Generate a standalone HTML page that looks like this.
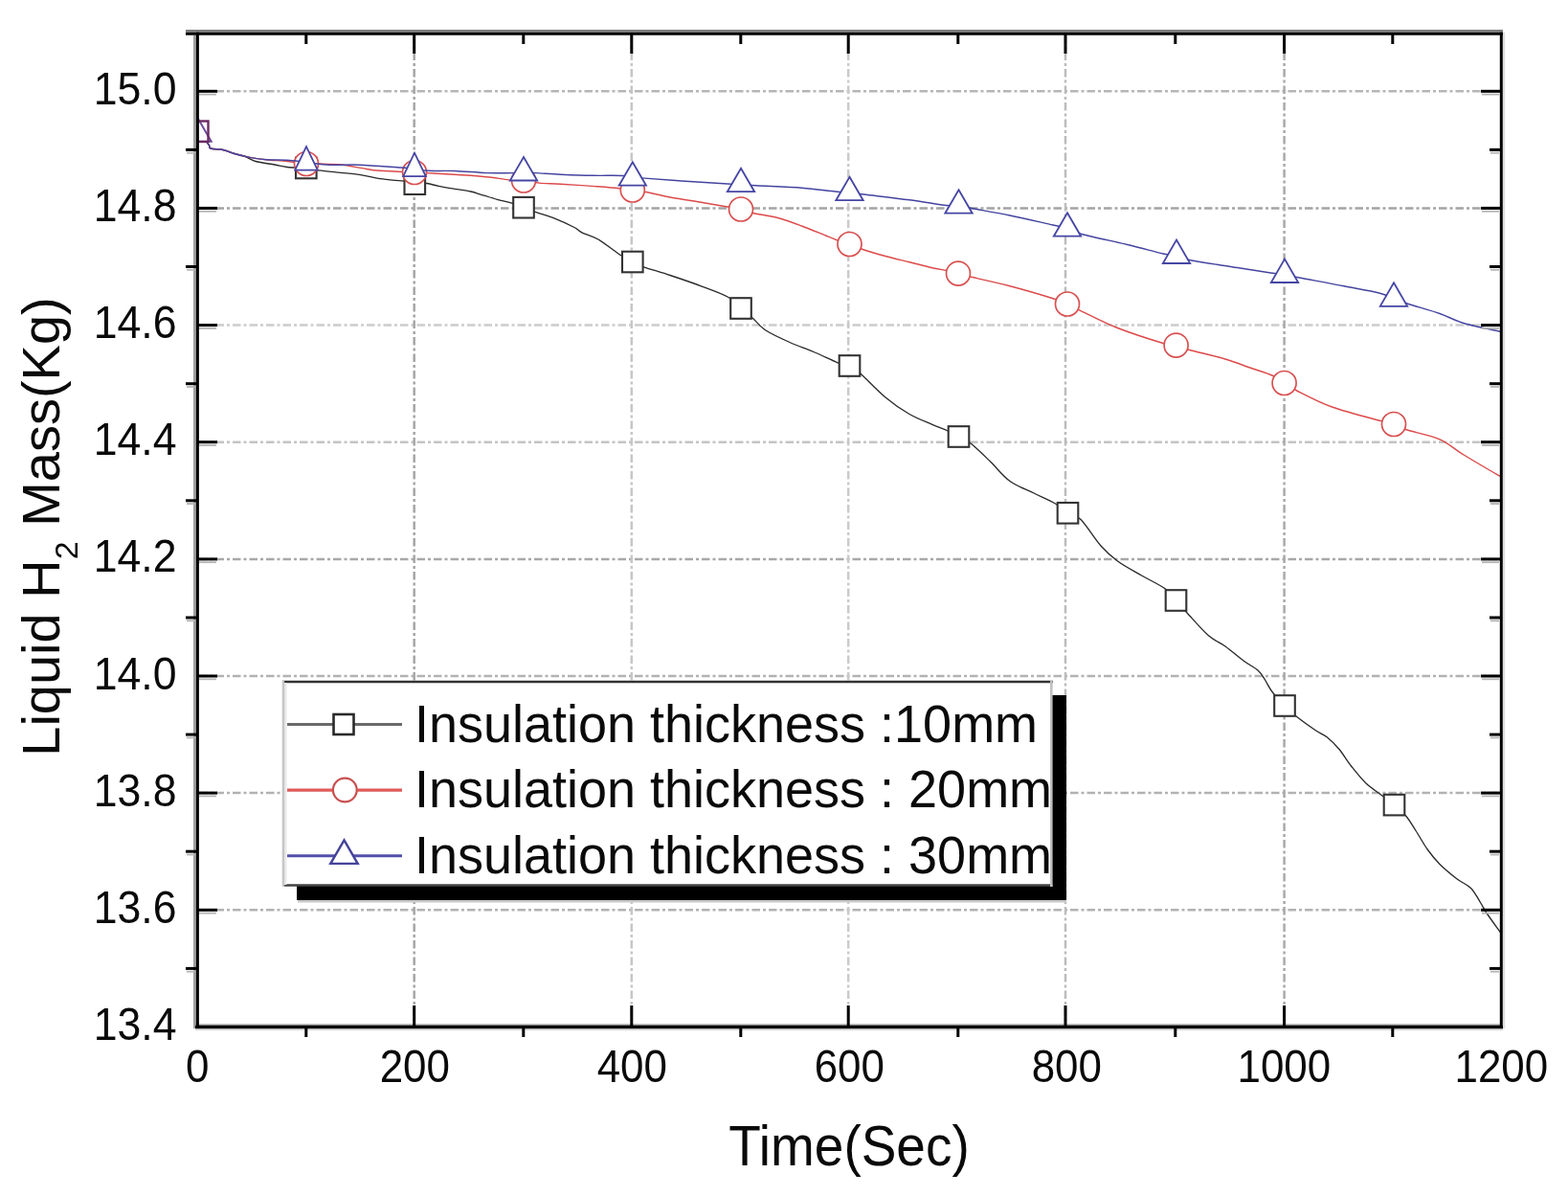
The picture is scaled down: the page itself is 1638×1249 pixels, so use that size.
<!DOCTYPE html><html><head><meta charset="utf-8"><title>Liquid H2 Mass vs Time</title><style>html,body{margin:0;padding:0;background:#fff;}svg{display:block;}</style></head><body>
<svg width="1638" height="1249" viewBox="0 0 1638 1249">
<rect width="1638" height="1249" fill="#fff"/>
<g stroke-width="2.5" stroke-dasharray="8.5 3 3 3" fill="none">
<line x1="208" y1="95.3" x2="1566" y2="95.3" stroke="#b6b6b6"/>
<line x1="208" y1="217.4" x2="1566" y2="217.4" stroke="#a4a4a4"/>
<line x1="208" y1="339.6" x2="1566" y2="339.6" stroke="#cccccc"/>
<line x1="208" y1="461.7" x2="1566" y2="461.7" stroke="#c4c4c4"/>
<line x1="208" y1="583.9" x2="1566" y2="583.9" stroke="#a8a8a8"/>
<line x1="208" y1="706.0" x2="1566" y2="706.0" stroke="#b2b2b2"/>
<line x1="208" y1="828.1" x2="1566" y2="828.1" stroke="#b2b2b2"/>
<line x1="208" y1="950.3" x2="1566" y2="950.3" stroke="#b2b2b2"/>
<line x1="432.7" y1="37" x2="432.7" y2="1070" stroke="#a6a6a6"/>
<line x1="659.8" y1="37" x2="659.8" y2="1070" stroke="#c6c6c6"/>
<line x1="886.2" y1="37" x2="886.2" y2="1070" stroke="#cacaca"/>
<line x1="1113.0" y1="37" x2="1113.0" y2="1070" stroke="#bcbcbc"/>
<line x1="1341.6" y1="37" x2="1341.6" y2="1070" stroke="#aaaaaa"/>
</g>
<defs><clipPath id="pc"><rect x="206.3" y="35" width="1362" height="1038"/></clipPath></defs>
<g clip-path="url(#pc)">
<path d="M206.5 137.0C208.4 139.3 215.8 148.0 218.0 151.0C220.2 154.0 217.5 154.1 220.0 155.0C222.5 155.9 228.8 155.6 233.0 156.5C237.2 157.4 241.3 159.4 245.0 160.5C248.7 161.6 251.3 161.7 255.0 163.0C258.7 164.3 261.7 167.0 267.0 168.5C272.3 170.0 281.5 171.0 287.0 172.0C292.5 173.0 294.5 173.9 300.0 174.5C305.5 175.1 314.3 174.9 319.8 175.5C325.3 176.1 327.0 177.0 333.0 177.8C339.0 178.6 348.5 179.5 356.0 180.3C363.5 181.1 371.2 181.7 378.0 182.8C384.8 183.9 390.1 185.7 397.0 186.7C403.9 187.7 413.3 188.3 419.4 188.9C425.4 189.5 428.9 189.6 433.3 190.0C437.7 190.4 441.8 190.8 446.0 191.5C450.2 192.2 453.5 193.4 458.3 194.4C463.1 195.4 469.4 196.4 475.0 197.3C480.6 198.2 487.1 199.0 491.7 200.0C496.3 201.0 498.2 201.9 502.8 203.3C507.4 204.7 514.4 206.9 519.4 208.3C524.4 209.7 528.4 210.3 533.0 211.7C537.6 213.1 542.5 215.0 547.0 216.7C551.5 218.4 554.5 219.8 560.0 221.7C565.5 223.6 573.3 225.7 580.0 228.3C586.7 230.9 595.4 235.1 600.0 237.5C604.6 239.9 603.6 240.7 607.8 242.8C612.0 244.9 618.4 246.1 625.0 250.0C631.6 253.9 641.6 262.1 647.5 266.0C653.4 269.9 656.3 271.4 660.5 273.5C664.7 275.6 665.9 276.4 672.5 278.8C679.1 281.1 690.0 284.2 700.0 287.5C710.0 290.8 722.5 295.0 732.5 298.8C742.5 302.5 753.1 306.1 760.0 310.0C766.9 313.9 769.7 318.3 774.0 322.0C778.3 325.7 781.7 328.2 786.0 332.0C790.3 335.8 793.5 340.8 800.0 345.0C806.5 349.2 816.7 353.8 825.0 357.5C833.3 361.2 841.7 364.0 850.0 367.5C858.3 371.0 868.8 376.3 875.0 378.8C881.2 381.2 883.5 380.1 887.5 382.0C891.5 383.9 892.5 384.5 898.8 390.0C905.0 395.5 916.5 407.9 925.0 415.0C933.5 422.1 941.7 427.7 950.0 432.5C958.3 437.3 968.3 440.8 975.0 443.8C981.7 446.7 985.6 448.0 990.0 450.0C994.4 452.0 997.3 453.7 1001.5 456.0C1005.7 458.3 1009.4 459.3 1015.0 463.8C1020.6 468.2 1028.3 476.0 1035.0 482.5C1041.7 489.0 1047.5 497.1 1055.0 502.5C1062.5 507.9 1072.1 511.1 1080.0 515.0C1087.9 518.9 1096.6 522.5 1102.5 526.0C1108.4 529.5 1111.1 533.0 1115.5 535.8C1119.9 538.5 1123.2 536.8 1129.0 542.5C1134.8 548.2 1143.6 562.8 1150.0 570.0C1156.4 577.2 1160.4 580.8 1167.5 586.0C1174.6 591.2 1184.2 596.2 1192.5 601.0C1200.8 605.8 1211.5 610.7 1217.5 615.0C1223.5 619.3 1224.8 622.8 1228.5 627.0C1232.2 631.2 1234.3 633.9 1240.0 640.0C1245.7 646.1 1255.8 657.9 1262.5 663.8C1269.2 669.6 1273.9 670.6 1280.0 675.0C1286.1 679.4 1293.3 685.8 1299.0 690.0C1304.7 694.2 1310.2 696.7 1314.0 700.0C1317.8 703.3 1319.0 706.2 1321.5 710.0C1324.0 713.8 1325.6 718.0 1329.0 722.5C1332.4 727.0 1337.7 732.6 1342.0 737.0C1346.3 741.4 1349.7 744.5 1355.0 748.8C1360.3 753.0 1368.8 759.0 1374.0 762.5C1379.2 766.0 1382.3 766.7 1386.5 770.0C1390.7 773.3 1394.8 777.5 1399.0 782.5C1403.2 787.5 1406.9 794.2 1411.5 800.0C1416.1 805.8 1421.1 812.3 1426.5 817.5C1431.9 822.7 1439.0 827.1 1444.0 831.0C1449.0 834.9 1452.3 837.0 1456.5 840.6C1460.7 844.2 1465.2 848.0 1469.0 852.5C1472.8 857.0 1475.2 861.7 1479.0 867.5C1482.8 873.3 1487.3 881.7 1491.5 887.5C1495.7 893.3 1499.0 897.5 1504.0 902.5C1509.0 907.5 1516.1 913.3 1521.5 917.5C1526.9 921.7 1532.3 923.3 1536.5 927.5C1540.7 931.7 1543.6 937.9 1546.5 942.5C1549.4 947.1 1550.4 949.7 1554.0 955.0C1557.6 960.3 1565.7 971.2 1568.0 974.5" fill="none" stroke="#2a2a2a" stroke-width="1.35" stroke-linejoin="round"/>
<rect x="309.0" y="164.7" width="21.6" height="21.6" fill="#fff" stroke="#333333" stroke-width="2.1"/>
<rect x="422.5" y="181.4" width="21.6" height="21.6" fill="#fff" stroke="#333333" stroke-width="2.1"/>
<rect x="536.2" y="205.9" width="21.6" height="21.6" fill="#fff" stroke="#333333" stroke-width="2.1"/>
<rect x="650.0" y="262.7" width="21.6" height="21.6" fill="#fff" stroke="#333333" stroke-width="2.1"/>
<rect x="763.2" y="311.2" width="21.6" height="21.6" fill="#fff" stroke="#333333" stroke-width="2.1"/>
<rect x="876.7" y="371.2" width="21.6" height="21.6" fill="#fff" stroke="#333333" stroke-width="2.1"/>
<rect x="990.7" y="445.2" width="21.6" height="21.6" fill="#fff" stroke="#333333" stroke-width="2.1"/>
<rect x="1104.7" y="525.0" width="21.6" height="21.6" fill="#fff" stroke="#333333" stroke-width="2.1"/>
<rect x="1217.7" y="616.2" width="21.6" height="21.6" fill="#fff" stroke="#333333" stroke-width="2.1"/>
<rect x="1331.2" y="726.2" width="21.6" height="21.6" fill="#fff" stroke="#333333" stroke-width="2.1"/>
<rect x="1445.7" y="829.8" width="21.6" height="21.6" fill="#fff" stroke="#333333" stroke-width="2.1"/>
<path d="M206.5 137.0C208.4 139.3 215.8 148.0 218.0 151.0C220.2 154.0 217.5 154.1 220.0 155.0C222.5 155.9 228.8 155.6 233.0 156.5C237.2 157.4 240.3 159.2 245.0 160.5C249.7 161.8 255.5 163.4 261.0 164.4C266.5 165.4 271.5 166.0 278.0 166.7C284.5 167.4 293.0 167.8 300.0 168.5C307.0 169.2 314.5 170.6 320.0 171.0C325.5 171.4 327.0 170.8 333.0 171.0C339.0 171.2 348.5 171.2 356.0 172.0C363.5 172.8 371.2 174.5 378.0 175.6C384.8 176.7 387.8 177.6 397.0 178.3C406.2 179.0 423.7 179.6 433.0 180.0C442.3 180.4 443.0 180.4 452.8 181.0C462.6 181.6 480.6 182.5 491.7 183.3C502.8 184.2 512.4 185.3 519.4 186.1C526.4 186.9 529.4 187.9 534.0 188.3C538.6 188.8 542.1 188.3 547.0 188.8C551.9 189.3 556.9 190.5 563.3 191.1C569.7 191.7 576.3 191.6 585.6 192.2C594.9 192.8 608.7 193.7 618.9 194.4C629.1 195.2 639.8 196.0 646.7 196.7C653.6 197.4 655.9 197.9 660.5 198.5C665.1 199.1 667.8 199.2 674.4 200.5C681.0 201.8 691.6 204.4 700.0 206.0C708.4 207.6 715.0 208.3 725.0 210.0C735.0 211.7 751.8 214.6 760.0 216.0C768.2 217.4 769.7 217.4 774.0 218.5C778.3 219.6 779.6 221.0 786.0 222.5C792.4 224.0 803.9 225.2 812.5 227.5C821.1 229.8 829.2 232.9 837.5 236.0C845.8 239.1 856.2 243.5 862.5 246.0C868.8 248.5 870.8 249.5 875.0 251.0C879.2 252.5 883.3 253.5 887.5 255.0C891.7 256.5 893.8 257.9 900.0 260.0C906.2 262.1 916.7 265.2 925.0 267.5C933.3 269.8 941.7 271.7 950.0 273.8C958.3 275.8 968.5 278.5 975.0 280.0C981.5 281.5 984.7 281.6 989.0 282.5C993.3 283.4 997.1 284.6 1001.0 285.6C1004.9 286.6 1003.5 286.6 1012.5 288.8C1021.5 290.9 1040.0 294.8 1055.0 298.8C1070.0 302.7 1092.5 309.4 1102.5 312.5C1112.5 315.6 1110.8 315.6 1115.0 317.5C1119.2 319.4 1118.8 319.6 1127.5 323.8C1136.2 327.9 1152.8 336.7 1167.5 342.5C1182.2 348.3 1205.8 355.7 1216.0 358.8C1226.2 361.8 1224.4 359.6 1228.6 360.6C1232.8 361.6 1232.4 362.6 1241.0 365.0C1249.6 367.4 1269.3 371.9 1280.0 375.0C1290.7 378.1 1296.7 380.8 1305.0 383.8C1313.3 386.7 1323.9 389.8 1330.0 392.5C1336.1 395.2 1337.6 397.5 1341.6 400.0C1345.6 402.5 1345.4 403.3 1353.8 407.5C1362.1 411.7 1376.5 419.6 1391.5 425.0C1406.5 430.4 1433.2 437.0 1444.0 440.0C1454.8 443.0 1451.8 441.5 1456.0 443.0C1460.2 444.5 1461.0 446.1 1469.0 448.8C1477.0 451.4 1494.0 454.4 1504.0 458.8C1514.0 463.1 1518.3 468.5 1529.0 475.0C1539.7 481.5 1561.5 494.2 1568.0 498.0" fill="none" stroke="#dc4a4a" stroke-width="1.45" stroke-linejoin="round"/>
<circle cx="320.0" cy="171.0" r="12.5" fill="#fff" stroke="#d85050" stroke-width="1.7"/>
<circle cx="433.0" cy="180.0" r="12.5" fill="#fff" stroke="#d85050" stroke-width="1.7"/>
<circle cx="547.0" cy="188.5" r="12.5" fill="#fff" stroke="#d85050" stroke-width="1.7"/>
<circle cx="660.8" cy="198.5" r="12.5" fill="#fff" stroke="#d85050" stroke-width="1.7"/>
<circle cx="774.0" cy="218.5" r="12.5" fill="#fff" stroke="#d85050" stroke-width="1.7"/>
<circle cx="887.5" cy="255.0" r="12.5" fill="#fff" stroke="#d85050" stroke-width="1.7"/>
<circle cx="1001.0" cy="285.6" r="12.5" fill="#fff" stroke="#d85050" stroke-width="1.7"/>
<circle cx="1115.0" cy="317.5" r="12.5" fill="#fff" stroke="#d85050" stroke-width="1.7"/>
<circle cx="1228.6" cy="360.6" r="12.5" fill="#fff" stroke="#d85050" stroke-width="1.7"/>
<circle cx="1341.6" cy="400.0" r="12.5" fill="#fff" stroke="#d85050" stroke-width="1.7"/>
<circle cx="1456.0" cy="443.0" r="12.5" fill="#fff" stroke="#d85050" stroke-width="1.7"/>
<path d="M206.5 137.0C208.4 139.3 215.8 148.0 218.0 151.0C220.2 154.0 217.5 154.1 220.0 155.0C222.5 155.9 228.8 155.6 233.0 156.5C237.2 157.4 240.3 159.2 245.0 160.5C249.7 161.8 255.5 163.4 261.0 164.4C266.5 165.4 271.5 166.2 278.0 166.7C284.5 167.2 293.0 166.8 300.0 167.2C307.0 167.6 312.6 168.6 320.0 169.4C327.4 170.2 335.1 171.7 344.4 172.2C353.7 172.7 363.1 171.7 375.6 172.2C388.1 172.7 409.8 174.4 419.4 175.0C429.0 175.6 428.6 175.4 433.0 176.0C437.4 176.6 439.0 177.9 446.0 178.3C453.0 178.7 464.6 178.1 475.0 178.5C485.4 178.9 498.3 180.2 508.3 180.6C518.3 180.9 528.5 180.6 535.0 180.6C541.5 180.6 542.8 180.3 547.0 180.3C551.2 180.3 553.6 180.3 560.0 180.6C566.4 180.9 575.8 181.8 585.6 182.2C595.4 182.6 608.0 183.1 618.9 183.3C629.8 183.5 644.1 183.1 651.0 183.5C657.9 183.9 656.8 185.1 660.5 185.5C664.2 185.9 664.7 185.5 673.3 186.1C681.9 186.7 697.5 188.0 712.0 189.0C726.5 190.0 749.7 191.4 760.0 192.0C770.3 192.6 769.0 192.2 774.0 192.5C779.0 192.8 779.4 193.1 790.0 193.8C800.6 194.4 823.8 195.2 837.5 196.2C851.2 197.3 864.2 199.2 872.5 200.0C880.8 200.8 882.5 200.5 887.5 201.0C892.5 201.5 892.1 201.7 902.5 203.0C912.9 204.3 935.6 206.8 950.0 208.8C964.4 210.7 980.2 213.5 988.8 214.5C997.3 215.5 997.1 214.5 1001.5 215.0C1005.9 215.5 1006.1 215.8 1015.0 217.5C1023.9 219.2 1040.8 222.1 1055.0 225.0C1069.2 227.9 1090.0 232.8 1100.0 235.0C1110.0 237.2 1110.0 236.9 1115.0 238.5C1120.0 240.1 1119.2 241.6 1130.0 244.5C1140.8 247.4 1165.8 252.6 1180.0 256.0C1194.2 259.4 1206.8 263.2 1215.0 265.0C1223.2 266.8 1224.0 265.8 1229.0 267.0C1234.0 268.2 1234.4 269.9 1245.0 272.0C1255.6 274.1 1278.8 277.3 1292.5 279.5C1306.2 281.7 1319.2 283.8 1327.5 285.0C1335.8 286.2 1337.0 286.2 1342.0 287.0C1347.0 287.8 1347.2 288.0 1357.5 290.0C1367.8 292.0 1390.0 296.0 1404.0 298.8C1418.0 301.5 1432.8 304.1 1441.5 306.2C1450.2 308.4 1451.2 309.7 1456.0 311.5C1460.8 313.3 1462.0 314.3 1470.0 317.0C1478.0 319.7 1494.2 324.1 1504.0 327.5C1513.8 330.9 1518.3 334.3 1529.0 337.5C1539.7 340.7 1561.5 345.0 1568.0 346.5" fill="none" stroke="#4444a0" stroke-width="1.45" stroke-linejoin="round"/>
<path d="M320.0 153.1L331.8 177.6L308.2 177.6Z" fill="#fff" stroke="#4646a4" stroke-width="1.8" stroke-linejoin="miter"/>
<path d="M433.0 159.7L444.8 184.2L421.2 184.2Z" fill="#fff" stroke="#4646a4" stroke-width="1.8" stroke-linejoin="miter"/>
<path d="M547.0 164.0L561.2 188.5L532.8 188.5Z" fill="#fff" stroke="#4646a4" stroke-width="1.8" stroke-linejoin="miter"/>
<path d="M660.8 169.2L675.0 193.7L646.6 193.7Z" fill="#fff" stroke="#4646a4" stroke-width="1.8" stroke-linejoin="miter"/>
<path d="M774.0 175.7L788.2 200.2L759.8 200.2Z" fill="#fff" stroke="#4646a4" stroke-width="1.8" stroke-linejoin="miter"/>
<path d="M887.5 184.7L901.7 209.2L873.3 209.2Z" fill="#fff" stroke="#4646a4" stroke-width="1.8" stroke-linejoin="miter"/>
<path d="M1001.5 198.2L1015.7 222.7L987.3 222.7Z" fill="#fff" stroke="#4646a4" stroke-width="1.8" stroke-linejoin="miter"/>
<path d="M1115.0 222.2L1129.2 246.7L1100.8 246.7Z" fill="#fff" stroke="#4646a4" stroke-width="1.8" stroke-linejoin="miter"/>
<path d="M1229.0 250.5L1243.2 275.0L1214.8 275.0Z" fill="#fff" stroke="#4646a4" stroke-width="1.8" stroke-linejoin="miter"/>
<path d="M1342.0 270.5L1356.2 295.0L1327.8 295.0Z" fill="#fff" stroke="#4646a4" stroke-width="1.8" stroke-linejoin="miter"/>
<path d="M1456.0 295.3L1470.2 319.8L1441.8 319.8Z" fill="#fff" stroke="#4646a4" stroke-width="1.8" stroke-linejoin="miter"/>
<path d="M206.5 123.2L220.7 147.7L192.3 147.7Z" fill="#fff" stroke="#6a4a9a" stroke-width="2.0" stroke-linejoin="miter"/>
<rect x="195.5" y="126.5" width="22" height="21.5" fill="none" stroke="#6a2a62" stroke-width="2.4"/>
</g>
<g fill="none">
<line x1="203.5" y1="37" x2="203.5" y2="1074" stroke="#a0a0a0" stroke-width="3"/>
<line x1="194" y1="32.4" x2="1570" y2="32.4" stroke="#7c7c7c" stroke-width="2.8"/>
<line x1="204" y1="1070.3" x2="1567" y2="1070.3" stroke="#8a8a8a" stroke-width="1.6"/>
<line x1="204" y1="1075.2" x2="1570" y2="1075.2" stroke="#dcdcdc" stroke-width="2"/>
<line x1="1571" y1="33.8" x2="1571" y2="1074" stroke="#dedede" stroke-width="2.4"/>
<line x1="194" y1="35.3" x2="1570" y2="35.3" stroke="#000" stroke-width="3"/>
<line x1="206.4" y1="33.8" x2="206.4" y2="1074" stroke="#000" stroke-width="3"/>
<line x1="204" y1="1072.6" x2="1570" y2="1072.6" stroke="#000" stroke-width="3.1"/>
<line x1="1568.3" y1="33.8" x2="1568.3" y2="1074" stroke="#000" stroke-width="3"/>
</g>
<g stroke="#000" stroke-width="3.0" fill="none">
<line x1="207" y1="95.3" x2="227" y2="95.3"/>
<line x1="1547" y1="95.3" x2="1567" y2="95.3"/>
<line x1="207" y1="217.4" x2="227" y2="217.4"/>
<line x1="1547" y1="217.4" x2="1567" y2="217.4"/>
<line x1="207" y1="339.6" x2="227" y2="339.6"/>
<line x1="1547" y1="339.6" x2="1567" y2="339.6"/>
<line x1="207" y1="461.7" x2="227" y2="461.7"/>
<line x1="1547" y1="461.7" x2="1567" y2="461.7"/>
<line x1="207" y1="583.9" x2="227" y2="583.9"/>
<line x1="1547" y1="583.9" x2="1567" y2="583.9"/>
<line x1="207" y1="706.0" x2="227" y2="706.0"/>
<line x1="1547" y1="706.0" x2="1567" y2="706.0"/>
<line x1="207" y1="828.1" x2="227" y2="828.1"/>
<line x1="1547" y1="828.1" x2="1567" y2="828.1"/>
<line x1="207" y1="950.3" x2="227" y2="950.3"/>
<line x1="1547" y1="950.3" x2="1567" y2="950.3"/>
<line x1="194" y1="156.4" x2="205" y2="156.4"/>
<line x1="1556" y1="156.4" x2="1567" y2="156.4"/>
<line x1="194" y1="278.5" x2="205" y2="278.5"/>
<line x1="1556" y1="278.5" x2="1567" y2="278.5"/>
<line x1="194" y1="400.7" x2="205" y2="400.7"/>
<line x1="1556" y1="400.7" x2="1567" y2="400.7"/>
<line x1="194" y1="522.8" x2="205" y2="522.8"/>
<line x1="1556" y1="522.8" x2="1567" y2="522.8"/>
<line x1="194" y1="645.0" x2="205" y2="645.0"/>
<line x1="1556" y1="645.0" x2="1567" y2="645.0"/>
<line x1="194" y1="767.1" x2="205" y2="767.1"/>
<line x1="1556" y1="767.1" x2="1567" y2="767.1"/>
<line x1="194" y1="889.2" x2="205" y2="889.2"/>
<line x1="1556" y1="889.2" x2="1567" y2="889.2"/>
<line x1="194" y1="1011.4" x2="205" y2="1011.4"/>
<line x1="1556" y1="1011.4" x2="1567" y2="1011.4"/>
<line x1="432.7" y1="36" x2="432.7" y2="56"/>
<line x1="432.7" y1="1050" x2="432.7" y2="1071"/>
<line x1="659.8" y1="36" x2="659.8" y2="56"/>
<line x1="659.8" y1="1050" x2="659.8" y2="1071"/>
<line x1="886.2" y1="36" x2="886.2" y2="56"/>
<line x1="886.2" y1="1050" x2="886.2" y2="1071"/>
<line x1="1113.0" y1="36" x2="1113.0" y2="56"/>
<line x1="1113.0" y1="1050" x2="1113.0" y2="1071"/>
<line x1="1341.6" y1="36" x2="1341.6" y2="56"/>
<line x1="1341.6" y1="1050" x2="1341.6" y2="1071"/>
<line x1="319.8" y1="36" x2="319.8" y2="46"/>
<line x1="319.8" y1="1073" x2="319.8" y2="1083"/>
<line x1="546.8" y1="36" x2="546.8" y2="46"/>
<line x1="546.8" y1="1073" x2="546.8" y2="1083"/>
<line x1="773.8" y1="36" x2="773.8" y2="46"/>
<line x1="773.8" y1="1073" x2="773.8" y2="1083"/>
<line x1="1000.8" y1="36" x2="1000.8" y2="46"/>
<line x1="1000.8" y1="1073" x2="1000.8" y2="1083"/>
<line x1="1227.8" y1="36" x2="1227.8" y2="46"/>
<line x1="1227.8" y1="1073" x2="1227.8" y2="1083"/>
<line x1="1454.8" y1="36" x2="1454.8" y2="46"/>
<line x1="1454.8" y1="1073" x2="1454.8" y2="1083"/>
</g>
<g stroke="#b4b4b4" stroke-width="1.8" fill="none">
<line x1="208" y1="98.6" x2="226" y2="98.6"/>
<line x1="1548" y1="98.6" x2="1566" y2="98.6"/>
<line x1="208" y1="220.7" x2="226" y2="220.7"/>
<line x1="1548" y1="220.7" x2="1566" y2="220.7"/>
<line x1="208" y1="342.9" x2="226" y2="342.9"/>
<line x1="1548" y1="342.9" x2="1566" y2="342.9"/>
<line x1="208" y1="465.0" x2="226" y2="465.0"/>
<line x1="1548" y1="465.0" x2="1566" y2="465.0"/>
<line x1="208" y1="587.2" x2="226" y2="587.2"/>
<line x1="1548" y1="587.2" x2="1566" y2="587.2"/>
<line x1="208" y1="709.3" x2="226" y2="709.3"/>
<line x1="1548" y1="709.3" x2="1566" y2="709.3"/>
<line x1="208" y1="831.4" x2="226" y2="831.4"/>
<line x1="1548" y1="831.4" x2="1566" y2="831.4"/>
<line x1="208" y1="953.6" x2="226" y2="953.6"/>
<line x1="1548" y1="953.6" x2="1566" y2="953.6"/>
<line x1="195" y1="159.7" x2="204" y2="159.7"/>
<line x1="1557" y1="159.7" x2="1566" y2="159.7"/>
<line x1="195" y1="281.8" x2="204" y2="281.8"/>
<line x1="1557" y1="281.8" x2="1566" y2="281.8"/>
<line x1="195" y1="404.0" x2="204" y2="404.0"/>
<line x1="1557" y1="404.0" x2="1566" y2="404.0"/>
<line x1="195" y1="526.1" x2="204" y2="526.1"/>
<line x1="1557" y1="526.1" x2="1566" y2="526.1"/>
<line x1="195" y1="648.3" x2="204" y2="648.3"/>
<line x1="1557" y1="648.3" x2="1566" y2="648.3"/>
<line x1="195" y1="770.4" x2="204" y2="770.4"/>
<line x1="1557" y1="770.4" x2="1566" y2="770.4"/>
<line x1="195" y1="892.5" x2="204" y2="892.5"/>
<line x1="1557" y1="892.5" x2="1566" y2="892.5"/>
<line x1="195" y1="1014.7" x2="204" y2="1014.7"/>
<line x1="1557" y1="1014.7" x2="1566" y2="1014.7"/>
</g>
<text transform="translate(184.5,108.8) scale(0.970,1.035)" font-family='"Liberation Sans", Arial, sans-serif' font-size="46" fill="#0a0a0a" text-anchor="end">15.0</text>
<text transform="translate(184.5,230.9) scale(0.970,1.035)" font-family='"Liberation Sans", Arial, sans-serif' font-size="46" fill="#0a0a0a" text-anchor="end">14.8</text>
<text transform="translate(184.5,353.1) scale(0.970,1.035)" font-family='"Liberation Sans", Arial, sans-serif' font-size="46" fill="#0a0a0a" text-anchor="end">14.6</text>
<text transform="translate(184.5,475.2) scale(0.970,1.035)" font-family='"Liberation Sans", Arial, sans-serif' font-size="46" fill="#0a0a0a" text-anchor="end">14.4</text>
<text transform="translate(184.5,597.4) scale(0.970,1.035)" font-family='"Liberation Sans", Arial, sans-serif' font-size="46" fill="#0a0a0a" text-anchor="end">14.2</text>
<text transform="translate(184.5,719.5) scale(0.970,1.035)" font-family='"Liberation Sans", Arial, sans-serif' font-size="46" fill="#0a0a0a" text-anchor="end">14.0</text>
<text transform="translate(184.5,841.6) scale(0.970,1.035)" font-family='"Liberation Sans", Arial, sans-serif' font-size="46" fill="#0a0a0a" text-anchor="end">13.8</text>
<text transform="translate(184.5,963.8) scale(0.970,1.035)" font-family='"Liberation Sans", Arial, sans-serif' font-size="46" fill="#0a0a0a" text-anchor="end">13.6</text>
<text transform="translate(184.5,1085.9) scale(0.970,1.035)" font-family='"Liberation Sans", Arial, sans-serif' font-size="46" fill="#0a0a0a" text-anchor="end">13.4</text>
<text transform="translate(206.3,1130.0) scale(0.955,1.035)" font-family='"Liberation Sans", Arial, sans-serif' font-size="46" fill="#0a0a0a" text-anchor="middle">0</text>
<text transform="translate(433.3,1130.0) scale(0.955,1.035)" font-family='"Liberation Sans", Arial, sans-serif' font-size="46" fill="#0a0a0a" text-anchor="middle">200</text>
<text transform="translate(660.3,1130.0) scale(0.955,1.035)" font-family='"Liberation Sans", Arial, sans-serif' font-size="46" fill="#0a0a0a" text-anchor="middle">400</text>
<text transform="translate(887.3,1130.0) scale(0.955,1.035)" font-family='"Liberation Sans", Arial, sans-serif' font-size="46" fill="#0a0a0a" text-anchor="middle">600</text>
<text transform="translate(1114.3,1130.0) scale(0.955,1.035)" font-family='"Liberation Sans", Arial, sans-serif' font-size="46" fill="#0a0a0a" text-anchor="middle">800</text>
<text transform="translate(1341.3,1130.0) scale(0.955,1.035)" font-family='"Liberation Sans", Arial, sans-serif' font-size="46" fill="#0a0a0a" text-anchor="middle">1000</text>
<text transform="translate(1568.3,1130.0) scale(0.955,1.035)" font-family='"Liberation Sans", Arial, sans-serif' font-size="46" fill="#0a0a0a" text-anchor="middle">1200</text>
<text transform="translate(887.0,1217.0) scale(1.000,1.075)" font-family='"Liberation Sans", Arial, sans-serif' font-size="55" fill="#0a0a0a" text-anchor="middle">Time(Sec)</text>
<text transform="translate(62,550) rotate(-90)" font-family='"Liberation Sans", Arial, sans-serif' font-size="56" fill="#0a0a0a" text-anchor="middle">Liquid H<tspan font-size="34" dy="19">2</tspan><tspan dy="-19"> Mass(Kg)</tspan></text>
<rect x="310" y="726" width="804" height="214" fill="#000"/>
<line x1="311" y1="941.3" x2="1114" y2="941.3" stroke="#c8c8c8" stroke-width="2.6"/>
<rect x="296" y="712" width="803" height="213" fill="#fff"/>
<line x1="295" y1="712" x2="1100" y2="712" stroke="#333" stroke-width="2.6"/>
<line x1="295" y1="924.5" x2="1100" y2="924.5" stroke="#444" stroke-width="2.6"/>
<line x1="298.2" y1="713" x2="298.2" y2="924" stroke="#e8e8e8" stroke-width="2.6"/>
<line x1="295.9" y1="711" x2="295.9" y2="926" stroke="#c6c6c6" stroke-width="2.4"/>
<line x1="1098.3" y1="711" x2="1098.3" y2="926" stroke="#c0c0c0" stroke-width="2.6"/>
<line x1="300" y1="756.5" x2="420" y2="756.5" stroke="#6a6a6a" stroke-width="3"/>
<rect x="348.5" y="746.0" width="21.0" height="21.0" fill="#fff" stroke="#2a2a2a" stroke-width="2.6"/>
<line x1="300" y1="825.2" x2="420" y2="825.2" stroke="#e05a5a" stroke-width="3.2"/>
<circle cx="360.3" cy="825.0" r="12.4" fill="#fff" stroke="#c85050" stroke-width="2.2"/>
<line x1="300" y1="893.7" x2="420" y2="893.7" stroke="#5050aa" stroke-width="3"/>
<path d="M359.5 877.4L373.7 901.9L345.3 901.9Z" fill="#fff" stroke="#44449a" stroke-width="2.4" stroke-linejoin="miter"/>
<text transform="translate(433.0,774.6) scale(1.000,1.030)" font-family='"Liberation Sans", Arial, sans-serif' font-size="54" fill="#0a0a0a" text-anchor="start">Insulation thickness :10mm</text>
<text transform="translate(433.0,843.2) scale(1.000,1.030)" font-family='"Liberation Sans", Arial, sans-serif' font-size="54" fill="#0a0a0a" text-anchor="start">Insulation thickness : 20mm</text>
<text transform="translate(433.0,911.8) scale(1.000,1.030)" font-family='"Liberation Sans", Arial, sans-serif' font-size="54" fill="#0a0a0a" text-anchor="start">Insulation thickness : 30mm</text>
</svg></body></html>
